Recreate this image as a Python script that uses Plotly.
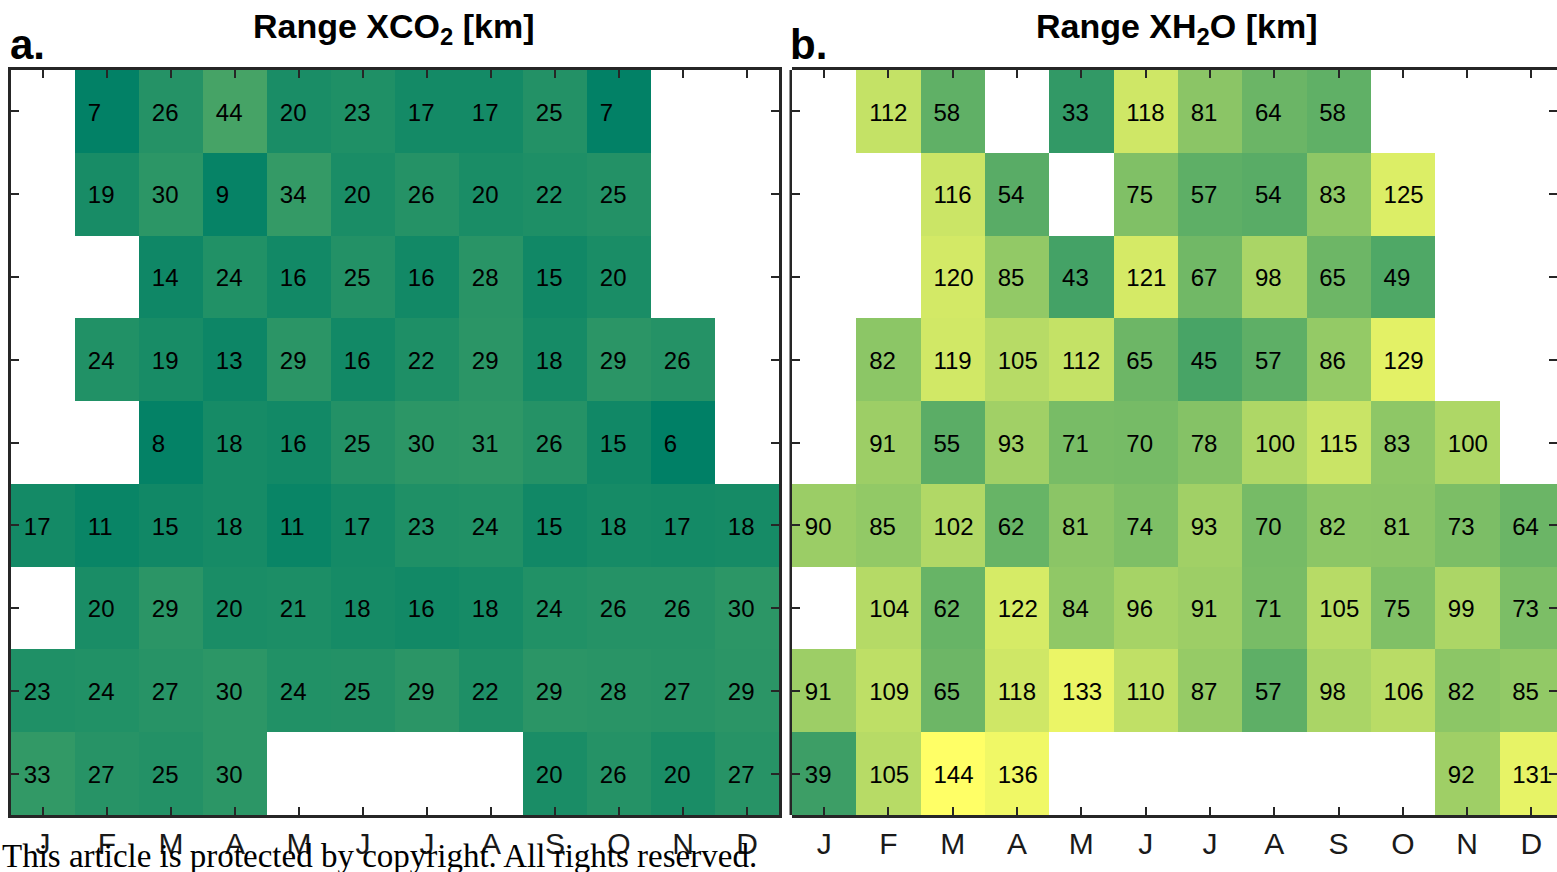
import plotly.graph_objects as go

W, H = 1557, 872

months = ["J", "F", "M", "A", "M", "J", "J", "A", "S", "O", "N", "D"]
n_rows = 9

# Range XCO2 [km], rows top to bottom, columns Jan..Dec (None = no data)
xco2 = [
    [None, 7, 26, 44, 20, 23, 17, 17, 25, 7, None, None],
    [None, 19, 30, 9, 34, 20, 26, 20, 22, 25, None, None],
    [None, None, 14, 24, 16, 25, 16, 28, 15, 20, None, None],
    [None, 24, 19, 13, 29, 16, 22, 29, 18, 29, 26, None],
    [None, None, 8, 18, 16, 25, 30, 31, 26, 15, 6, None],
    [17, 11, 15, 18, 11, 17, 23, 24, 15, 18, 17, 18],
    [None, 20, 29, 20, 21, 18, 16, 18, 24, 26, 26, 30],
    [23, 24, 27, 30, 24, 25, 29, 22, 29, 28, 27, 29],
    [33, 27, 25, 30, None, None, None, None, 20, 26, 20, 27],
]

# Range XH2O [km]
xh2o = [
    [None, 112, 58, None, 33, 118, 81, 64, 58, None, None, None],
    [None, None, 116, 54, None, 75, 57, 54, 83, 125, None, None],
    [None, None, 120, 85, 43, 121, 67, 98, 65, 49, None, None],
    [None, 82, 119, 105, 112, 65, 45, 57, 86, 129, None, None],
    [None, 91, 55, 93, 71, 70, 78, 100, 115, 83, 100, None],
    [90, 85, 102, 62, 81, 74, 93, 70, 82, 81, 73, 64],
    [None, 104, 62, 122, 84, 96, 91, 71, 105, 75, 99, 73],
    [91, 109, 65, 118, 133, 110, 87, 57, 98, 106, 82, 85],
    [39, 105, 144, 136, None, None, None, None, None, None, 92, 131],
]

# MATLAB "summer" colormap, shared colour limits for both panels
summer = [[0.0, "rgb(0,128,102)"], [1.0, "rgb(255,255,102)"]]
all_vals = [v for grid in (xco2, xh2o) for row in grid for v in row if v is not None]
cmin, cmax = min(all_vals), max(all_vals)

cols = list(range(1, 13))
rows = list(range(1, n_rows + 1))

fig = go.Figure()


def add_panel(grid, xa, ya):
    fig.add_trace(go.Heatmap(
        z=grid, x=cols, y=rows, colorscale=summer, zmin=cmin, zmax=cmax,
        showscale=False, xaxis=xa, yaxis=ya, hoverongaps=False,
    ))
    tx, ty, tt = [], [], []
    for r, row in enumerate(grid):
        for c, v in enumerate(row):
            if v is None:
                continue
            tx.append(c + 1 - 0.30)
            ty.append(r + 1 + 0.04)
            tt.append(str(v))
    fig.add_trace(go.Scatter(
        x=tx, y=ty, text=tt, mode="text", textposition="middle right",
        textfont=dict(family="Liberation Sans, Arial", size=24, color="black"),
        xaxis=xa, yaxis=ya, showlegend=False, cliponaxis=False, hoverinfo="skip",
    ))


add_panel(xco2, "x", "y")
add_panel(xh2o, "x2", "y2")

line_col = "#262626"
y_dom = [1 - 815 / H, 1 - 70 / H]
col_w_b = 64.3
b_left = 792

xcommon = dict(
    tickmode="array", tickvals=cols, ticktext=months, ticks="inside",
    ticklen=8, tickwidth=2, tickcolor=line_col, showline=True, linewidth=2.5,
    linecolor=line_col, mirror="ticks", showgrid=False, zeroline=False,
    tickfont=dict(family="Liberation Sans, Arial", size=30, color="#1a1a1a"),
)
ycommon = dict(
    tickmode="array", tickvals=rows, showticklabels=False, ticks="inside",
    ticklen=8, tickwidth=2, tickcolor=line_col, linewidth=2.5,
    linecolor=line_col, mirror="ticks", showgrid=False, zeroline=False,
    range=[n_rows + 0.5, 0.5], domain=y_dom,
)

fig.update_layout(
    width=W, height=H,
    margin=dict(l=0, r=0, t=0, b=0),
    paper_bgcolor="white", plot_bgcolor="white",
    showlegend=False,
    xaxis=dict(domain=[11 / W, 779 / W], range=[0.5, 12.5], anchor="y", **xcommon),
    yaxis=dict(anchor="x", showline=True, **ycommon),
    xaxis2=dict(domain=[b_left / W, 1.0], range=[0.5, 0.5 + (W - b_left) / col_w_b],
                anchor="y2", **xcommon),
    # right-hand frame of panel b runs past the page edge, so only its left side is drawn
    yaxis2=dict(anchor="x2", showline=False, **ycommon),
)

fig.add_shape(type="line", xref="paper", yref="paper",
              x0=(b_left - 1.25) / W, x1=(b_left - 1.25) / W, y0=y_dom[0], y1=y_dom[1],
              line=dict(color=line_col, width=2.5))

title_font = dict(family="Liberation Sans, Arial", size=34, color="black")
letter_font = dict(family="Liberation Sans, Arial", size=42, color="black")

fig.add_annotation(text="<b>Range XCO<sub>2</sub> [km]</b>", x=394 / W, y=1 - 29 / H,
                   xref="paper", yref="paper", xanchor="center", yanchor="middle",
                   showarrow=False, font=title_font)
fig.add_annotation(text="<b>Range XH<sub>2</sub>O [km]</b>", x=1177 / W, y=1 - 29 / H,
                   xref="paper", yref="paper", xanchor="center", yanchor="middle",
                   showarrow=False, font=title_font)
fig.add_annotation(text="<b>a.</b>", x=8 / W, y=1 - 44 / H, xref="paper", yref="paper",
                   xanchor="left", yanchor="middle", showarrow=False, font=letter_font)
fig.add_annotation(text="<b>b.</b>", x=788 / W, y=1 - 44 / H, xref="paper", yref="paper",
                   xanchor="left", yanchor="middle", showarrow=False, font=letter_font)

fig.add_annotation(text="This article is protected by copyright. All rights reserved.",
                   x=0, y=1 - 856 / H, xref="paper", yref="paper",
                   xanchor="left", yanchor="middle", showarrow=False,
                   font=dict(family="Liberation Serif, Times New Roman", size=33, color="black"))

fig.write_html("out.html")
